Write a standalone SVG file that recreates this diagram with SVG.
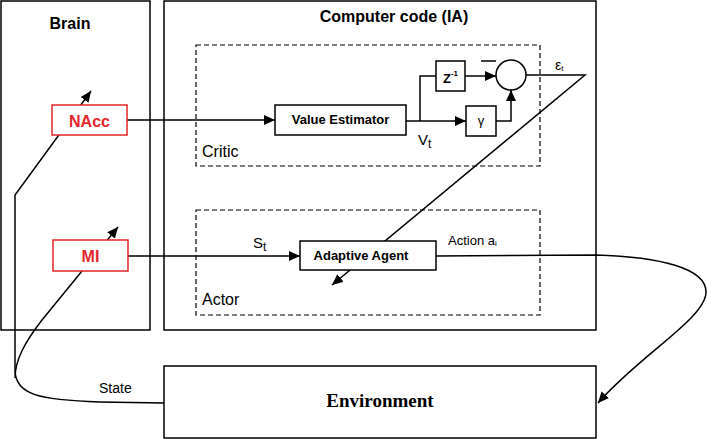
<svg xmlns="http://www.w3.org/2000/svg" width="707" height="440" viewBox="0 0 707 440">
<style>
.box{fill:#fff;stroke:#000;stroke-width:1.5}
.dash{fill:none;stroke:#000;stroke-width:1.2;stroke-dasharray:5,3}
.red{fill:#fff;stroke:#e3262b;stroke-width:1.5}
.ln{fill:none;stroke:#000;stroke-width:1.5}
.t{font-family:"Liberation Sans",Arial,sans-serif;fill:#000}
.b{font-weight:bold}
.rt{font-family:"Liberation Sans",Arial,sans-serif;font-weight:bold;fill:#e3262b;font-size:16px}
</style>
<defs>
<marker id="ah" markerUnits="userSpaceOnUse" markerWidth="12" markerHeight="10" refX="11" refY="5" orient="auto">
<path d="M0,0 L11,5 L0,10 Z" fill="#000"/>
</marker>
</defs>
<rect width="707" height="440" fill="#fff"/>
<g id="brain">
<rect class="box" x="1" y="1" width="149" height="329"/>
<text class="t b" x="70" y="29" font-size="16" text-anchor="middle">Brain</text>
</g>
<g id="computer-code">
<rect class="box" x="164" y="1" width="432" height="329"/>
<text class="t b" x="394" y="22" font-size="16" text-anchor="middle">Computer code (IA)</text>
</g>
<g id="critic">
<rect class="dash" x="196" y="45" width="344" height="121"/>
<text class="t" x="202" y="157" font-size="16">Critic</text>
</g>
<g id="actor">
<rect class="dash" x="196" y="210" width="344" height="105"/>
<text class="t" x="202" y="305" font-size="16">Actor</text>
</g>
<g id="connectors">
<path class="ln" d="M164,403 L100,402 C40,400 15,395 15,370 L15,195 L91,91" marker-end="url(#ah)"/>
<path class="ln" d="M15,378 C15,360 25,342 42,320 L118,227" marker-end="url(#ah)"/>
<path class="ln" d="M127,120 L275,120" marker-end="url(#ah)"/>
<path class="ln" d="M128,256 L300,256" marker-end="url(#ah)"/>
<path class="ln" d="M406,121 L466,121" marker-end="url(#ah)"/>
<path class="ln" d="M420,121 L420,76 L436,76"/>
<path class="ln" d="M465,76 L496,76" marker-end="url(#ah)"/>
<path class="ln" d="M496,121 L511,121 L511,90" marker-end="url(#ah)"/>
<path class="ln" d="M526,75 L585,75 L332,285" marker-end="url(#ah)"/>
<path class="ln" d="M436,256 L596,255 C660,257 706,268 706,292 C706,318 640,355 598,403" marker-end="url(#ah)"/>
<line x1="481" y1="61" x2="496" y2="61" stroke="#000" stroke-width="1.5"/>
<text class="t" x="555" y="70" font-size="14">ε<tspan font-size="8" dy="1">t</tspan></text>
<text class="t" x="418" y="145" font-size="15">V<tspan font-size="12" dy="3">t</tspan></text>
<text class="t" x="253" y="248" font-size="15">S<tspan font-size="12" dy="3">t</tspan></text>
<text class="t" x="448" y="245" font-size="13">Action a<tspan font-size="8" dy="1">i</tspan></text>
<text class="t" x="99" y="393" font-size="14">State</text>
</g>
<g id="nacc">
<rect class="red" x="52" y="105" width="75" height="30"/>
<text class="rt" x="89.5" y="127" text-anchor="middle">NAcc</text>
</g>
<g id="mi">
<rect class="red" x="53" y="240" width="75" height="31"/>
<text class="rt" x="90.5" y="262" text-anchor="middle">MI</text>
</g>
<g id="value-estimator">
<rect class="box" x="275" y="105" width="131" height="30"/>
<text class="t b" x="340.5" y="124" font-size="13" text-anchor="middle">Value Estimator</text>
</g>
<g id="z-inverse">
<rect class="box" x="436" y="61" width="29" height="30"/>
<text class="t b" x="443" y="83" font-size="13">Z<tspan font-size="8" dy="-7">-1</tspan></text>
</g>
<g id="gamma">
<rect class="box" x="466" y="106" width="30" height="30"/>
<text class="t" x="481" y="125" font-size="13" text-anchor="middle">γ</text>
</g>
<g id="sum">
<circle class="box" cx="511" cy="75" r="15"/>
</g>
<g id="adaptive-agent">
<rect class="box" x="300" y="241" width="136" height="29"/>
<text class="t b" x="361" y="260" font-size="13" text-anchor="middle">Adaptive Agent</text>
</g>
<g id="environment">
<rect class="box" x="164" y="366" width="432" height="72"/>
<text x="380" y="407" font-family="'Liberation Serif','Times New Roman',serif" font-weight="bold" font-size="19" text-anchor="middle">Environment</text>
</g>
</svg>
